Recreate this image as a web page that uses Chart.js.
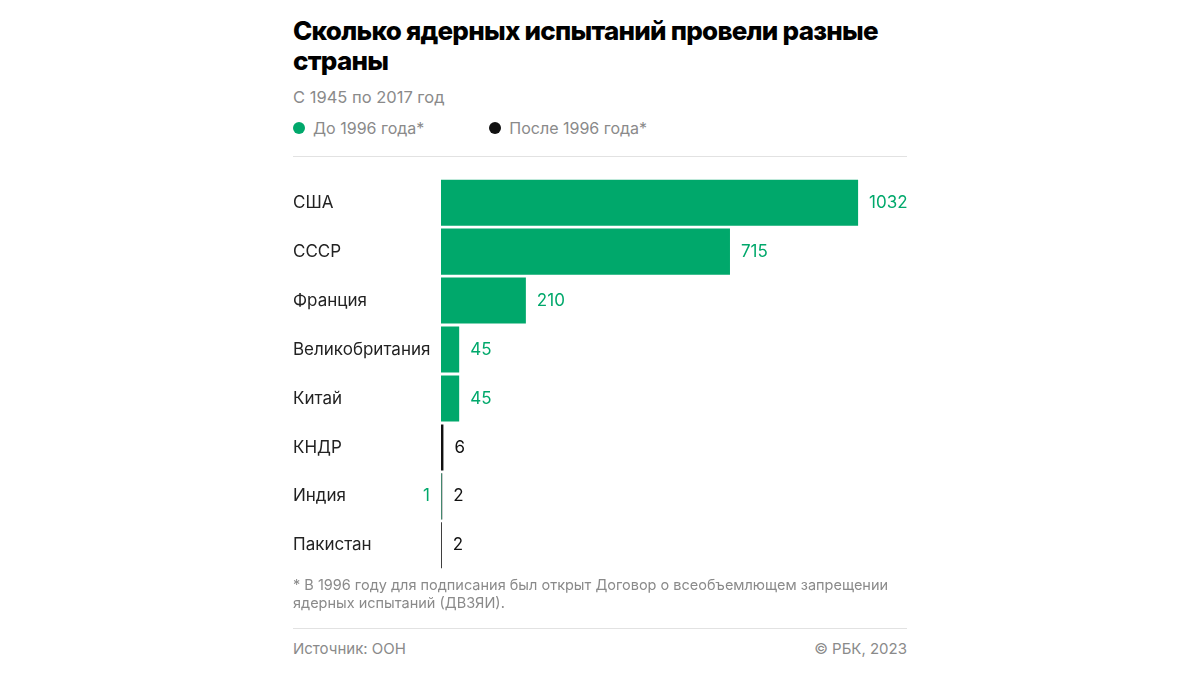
<!DOCTYPE html>
<html lang="ru">
<head>
<meta charset="utf-8">
<script src="https://cdn.jsdelivr.net/npm/chart.js@4"></script>
<style>
  html, body { margin: 0; padding: 0; background: #fff; }
  body { width: 1200px; height: 675px; position: relative; overflow: hidden; font-family: Inter, Roboto, sans-serif; }
  .title { position: absolute; left: 293px; top: 16px; width: 620px; font-size: 26px; font-weight: 800; line-height: 30px; color: #000; letter-spacing: -0.75px; }
  .sub { position: absolute; left: 293px; top: 87px; font-size: 16.5px; color: #8a8a8a; }
  .legend { position: absolute; left: 293px; top: 118px; font-size: 16px; color: #8a8a8a; display: flex; }
  .legend span { display: flex; align-items: center; margin-right: 65px; }
  .legend i { display: inline-block; width: 12px; height: 12px; border-radius: 50%; margin-right: 8px; }
  .rule { position: absolute; left: 293px; width: 614px; height: 1px; background: #e2e2e2; }
  .note { position: absolute; left: 293px; top: 576px; width: 620px; font-size: 14.5px; line-height: 18px; color: #8a8a8a; }
  .src { position: absolute; top: 639px; font-size: 15px; color: #8a8a8a; }
  #wrap { position: absolute; left: 293px; top: 168px; width: 614px; height: 412px; }
</style>
</head>
<body>
<div class="title">Сколько ядерных испытаний провели разные страны</div>
<div class="sub">С 1945 по 2017 год</div>
<div class="legend">
  <span><i style="background:#00a86b"></i>До 1996 года*</span>
  <span><i style="background:#111"></i>После 1996 года*</span>
</div>
<div class="rule" style="top:156px"></div>
<div id="wrap"><canvas id="chart"></canvas></div>
<div class="note">* В 1996 году для подписания был открыт Договор о всеобъемлющем запрещении ядерных испытаний (ДВЗЯИ).</div>
<div class="rule" style="top:628px"></div>
<div class="src" style="left:293px">Источник: ООН</div>
<div class="src" style="right:293px">© РБК, 2023</div>

<script>
const GREEN = "#00a86b";
const BLACK = "#111111";

const countries = ["США", "СССР", "Франция", "Великобритания", "Китай", "КНДР", "Индия", "Пакистан"];
const before1996 = [1032, 715, 210, 45, 45, 0, 1, 0];
const after1996 = [0, 0, 0, 0, 0, 6, 2, 2];

// value labels: after the bar end, green number moves left of the bar when a black part exists
const valueLabels = {
  id: "valueLabels",
  afterDatasetsDraw(chart) {
    const ctx = chart.ctx;
    const x = chart.scales.x;
    const y = chart.scales.y;
    ctx.save();
    ctx.font = "17px Inter, Roboto, sans-serif";
    ctx.textBaseline = "middle";
    countries.forEach((c, i) => {
      const g = before1996[i];
      const b = after1996[i];
      const cy = y.getPixelForValue(i);
      const end = x.getPixelForValue(g + b);
      if (b > 0) {
        ctx.fillStyle = BLACK;
        ctx.textAlign = "left";
        ctx.fillText(String(b), end + 11, cy);
        if (g > 0) {
          ctx.fillStyle = GREEN;
          ctx.textAlign = "right";
          ctx.fillText(String(g), x.getPixelForValue(0) - 11, cy);
        }
      } else if (g > 0) {
        ctx.fillStyle = GREEN;
        ctx.textAlign = "left";
        ctx.fillText(String(g), end + 11, cy);
      }
    });
    ctx.restore();
  },
};

new Chart(document.getElementById("chart"), {
  type: "bar",
  data: {
    labels: countries,
    datasets: [
      { label: "До 1996 года*", data: before1996, backgroundColor: GREEN, borderWidth: 0, barPercentage: 1, categoryPercentage: 0.94 },
      { label: "После 1996 года*", data: after1996, backgroundColor: BLACK, borderWidth: 0, barPercentage: 1, categoryPercentage: 0.94 },
    ],
  },
  options: {
    indexAxis: "y",
    responsive: true,
    maintainAspectRatio: false,
    animation: false,
    layout: { padding: 0 },
    scales: {
      x: { stacked: true, min: 0, max: 1153, display: false },
      y: {
        stacked: true,
        grid: { display: false },
        border: { display: false },
        ticks: {
          crossAlign: "far",
          padding: 0,
          color: "#222",
          font: { family: "Inter, Roboto, sans-serif", size: 17 },
        },
        afterFit(scale) { scale.width = 148; },
      },
    },
    plugins: { legend: { display: false }, tooltip: { enabled: false } },
  },
  plugins: [valueLabels],
});
</script>
</body>
</html>
